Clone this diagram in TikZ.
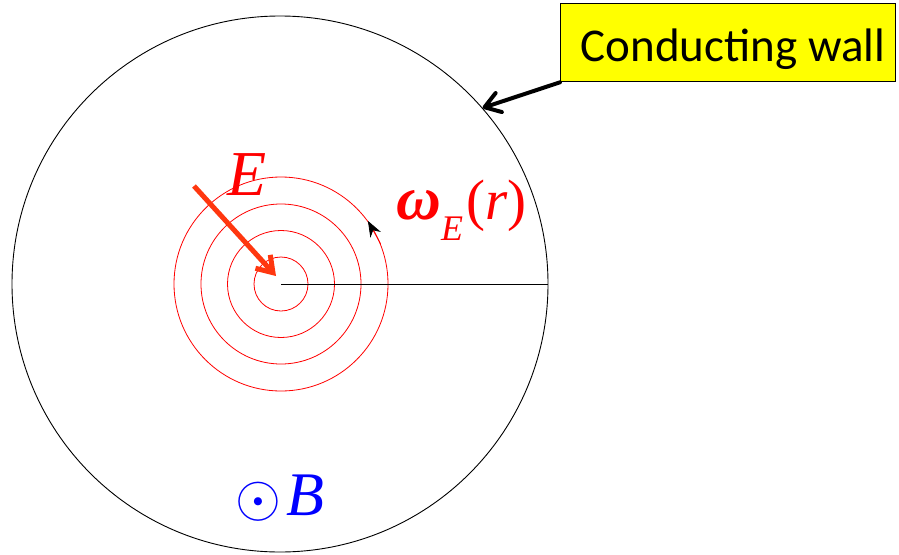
\documentclass[tikz,border=0pt]{standalone}
\usepackage{fontspec}
\usepackage{graphicx}
\usetikzlibrary{arrows.meta}
\newfontfamily\calfont{Carlito}
\newfontfamily\tmsfont{Liberation Serif}
\definecolor{eorange}{RGB}{255,55,15}
\definecolor{wallyellow}{RGB}{255,255,0}
\definecolor{bblue}{RGB}{0,0,255}
\begin{document}
\begin{tikzpicture}[x=1pt,y=-1pt,
  wallcirc/.style={draw=black, circle, line width=0.9pt, inner sep=0pt},
  fieldcirc/.style={draw=red, circle, line width=0.8pt, inner sep=0pt},
  labelbox/.style={draw=black, fill=wallyellow, line width=1.3pt, inner sep=0pt,
    minimum width=335pt, minimum height=78pt},
  bigarrow/.style={line width=4pt, line cap=round, -{Straight Barb[length=15pt,width=20pt,line cap=round,line join=round]}},
  earrow/.style={draw=eorange, line width=5pt, -{Straight Barb[length=15pt,width=20pt,line join=miter]}}
]
\useasboundingbox (0,0) rectangle (899,554);
\coordinate (c) at (281,284);
\node[wallcirc, minimum size=536pt] (wall) at (280,284) {};
\node[fieldcirc, minimum size=54pt] (r1) at (c) {};
\node[fieldcirc, minimum size=107pt] (r2) at (c) {};
\node[fieldcirc, minimum size=160pt] (r3) at (c) {};
\node[fieldcirc, minimum size=214pt] (r4) at (c) {};
\draw[line width=0.9pt] (c) -- (wall.east);
\draw[red, line width=0.8pt, -{Stealth[black,length=16pt,width=12pt]}] (r4.22) -- (r4.36);
% E arrow
\coordinate (es) at (194,186);
\coordinate (et) at (276,276);
\draw[earrow] (es) -- (et);
\node[text=red, font=\tmsfont\itshape\fontsize{64}{64}\selectfont, anchor=base, inner sep=0pt] (elab) at (247,195) {E};
% omega label
\node[text=red, anchor=base west, inner sep=0pt] (wlab) at (396,219)
  {\tmsfont\itshape{\bfseries\fontsize{62}{62}\selectfont ω}\raisebox{-21pt}{\fontsize{36}{36}\selectfont E}\hspace{3pt}{\fontsize{57}{57}\selectfont{\upshape (}r{\upshape )}}};
% B label
\node[text=bblue, anchor=base west, inner sep=0pt] (blab) at (235,515)
  {\raisebox{-1pt}{\scalebox{5.9}{$\odot$}}\hspace{5pt}{\tmsfont\itshape\fontsize{62}{62}\selectfont B}};
% conducting wall label
\node[labelbox, anchor=north west] (box) at (560,3) {};
\node[font=\calfont\fontsize{47}{47}\selectfont, anchor=base, inner sep=0pt] (boxtext) at (733,61) {Conducting wall};
\draw[bigarrow] (box.south west) -- (wall.41.8);
\end{tikzpicture}
\end{document}
